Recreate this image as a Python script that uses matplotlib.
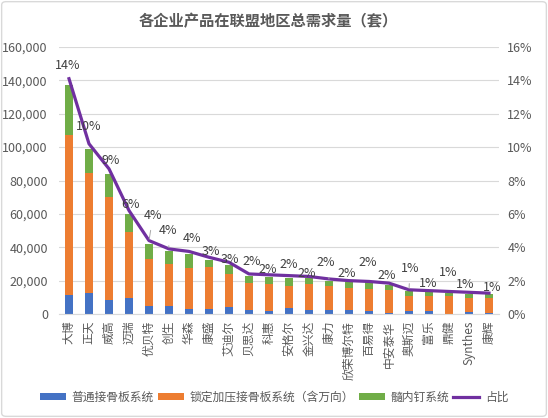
import matplotlib
matplotlib.use("Agg")
import matplotlib.pyplot as plt
from matplotlib.ticker import FuncFormatter, MultipleLocator
from matplotlib.patches import FancyBboxPatch
import numpy as np

plt.rcParams['font.family'] = ['Noto Sans CJK SC', 'DejaVu Sans']

companies = ["大博", "正天", "威高", "迈瑞", "优贝特", "创生", "华森", "康盛", "艾迪尔", "贝思达",
             "科惠", "安格尔", "金兴达", "康力", "欣荣博尔特", "百易得", "中安泰华", "奥斯迈",
             "富乐", "鼎健", "Synthes", "康辉"]
plain_plate = [11400, 12800, 8600, 9600, 4800, 4800, 3000, 3000, 4200, 2600,
               2000, 3600, 2600, 2600, 2600, 1800, 600, 1800, 1800, 200, 1200, 400]
locking_plate = [95600, 71400, 61600, 39600, 28200, 25400, 24800, 25200, 20000, 16000,
                 16200, 13400, 15600, 14400, 13200, 13200, 14000, 9200, 9200, 10800, 8600, 9200]
nail = [30000, 14400, 13800, 10800, 9200, 7600, 8400, 4200, 5200, 4400,
        4000, 4800, 3600, 2800, 3200, 4000, 2800, 2800, 2400, 1600, 2400, 2200]
share = [14.1, 10.2, 8.7, 6.2, 4.4, 3.9, 3.75, 3.4, 3.1, 2.4,
         2.35, 2.3, 2.25, 2.1, 2.0, 1.95, 1.85, 1.45, 1.4, 1.35, 1.3, 1.25]

series_names = ["普通接骨板系统", "锁定加压接骨板系统（含万向）", "髓内钉系统", "占比"]
title = "各企业产品在联盟地区总需求量（套）"

# label offsets (pixels) and whether a leader line is drawn
label_offsets = [(-1, 13), (0, 17), (2, 8), (2, 6), (4, 25), (-1, 18), (3, 13), (2, 6), (1, 3), (3, 12),
                 (-1, 5), (0, 11), (-2, 3), (-3, 16), (-2, 7), (-1, 19), (-2, 8), (1, 21), (-1, 7), (-1, 19),
                 (-4, 8), (3, 6)]
leaders = {4, 5, 13, 17}

c_blue, c_orange, c_green, c_purple = "#4472C4", "#ED7D31", "#70AD47", "#7030A0"
txt = "#595959"
fs = 8.5

fig = plt.figure(figsize=(5.48, 4.18), dpi=100)
ax = fig.add_axes([59/548, 1-314/418, 440/548, 267/418])
x = np.arange(len(companies))
w = 0.4
b1 = np.array(plain_plate)
b2 = np.array(locking_plate)
b3 = np.array(nail)
ax.bar(x, b1, w, color=c_blue, label=series_names[0], zorder=2)
ax.bar(x, b2, w, bottom=b1, color=c_orange, label=series_names[1], zorder=2)
ax.bar(x, b3, w, bottom=b1 + b2, color=c_green, label=series_names[2], zorder=2)

ax.set_xlim(-0.5, len(companies) - 0.5)
ax.set_ylim(0, 160000)
ax.yaxis.set_major_locator(MultipleLocator(20000))
ax.yaxis.set_major_formatter(FuncFormatter(lambda v, p: f"{int(v):,}"))
ax.grid(axis='y', color="#D9D9D9", lw=0.8, zorder=0)
ax.set_axisbelow(True)
for s in ['top', 'right', 'left']:
    ax.spines[s].set_visible(False)
ax.spines['bottom'].set_color("#D9D9D9")
ax.tick_params(axis='both', length=0, colors=txt, labelsize=9)
ax.tick_params(axis='y', pad=8)
ax.tick_params(axis='x', pad=5)
ax.set_xticks(x)
ax.set_xticklabels(companies, rotation=90, fontsize=fs, color=txt)

ax2 = ax.twinx()
ax2.set_ylim(0, 16)
ax2.yaxis.set_major_locator(MultipleLocator(2))
ax2.yaxis.set_major_formatter(FuncFormatter(lambda v, p: f"{int(round(v))}%"))
for s in ['top', 'right', 'left', 'bottom']:
    ax2.spines[s].set_visible(False)
ax2.tick_params(axis='y', length=0, colors=txt, labelsize=9, pad=6)
line, = ax2.plot(x, share, color=c_purple, lw=2.3, label=series_names[3], zorder=3,
                 solid_joinstyle='round')

for i, (xi, s) in enumerate(zip(x, share)):
    dx, dy = label_offsets[i]
    props = dict(arrowstyle='-', color="#A6A6A6", lw=0.7, shrinkA=4, shrinkB=1) if i in leaders else None
    ax2.annotate(f"{int(round(s))}%", xy=(xi, s), xytext=(dx, dy), textcoords='offset pixels',
                 ha='center', va='center', fontsize=fs + 0.5, color="#404040", arrowprops=props, zorder=4)

fig.text(0.49, 1 - 21/418, title, ha='center', va='center', fontsize=11, fontweight='bold', color=txt)

h1, l1 = ax.get_legend_handles_labels()
h2, l2 = ax2.get_legend_handles_labels()
fig.legend(h1 + h2, l1 + l2, loc='center', bbox_to_anchor=(274/548, 1 - 397/418), ncol=4, frameon=False,
           fontsize=fs, labelcolor=txt, handlelength=2.2, handleheight=0.55, columnspacing=0.4,
           handletextpad=0.45)

border = FancyBboxPatch((0.003, 0.004), 0.994, 0.992, boxstyle="round,pad=0,rounding_size=0.008",
                        transform=fig.transFigure, fill=False, edgecolor="#D9D9D9", lw=1)
fig.patches.append(border)

fig.savefig("out.png", dpi=100, facecolor="white")
